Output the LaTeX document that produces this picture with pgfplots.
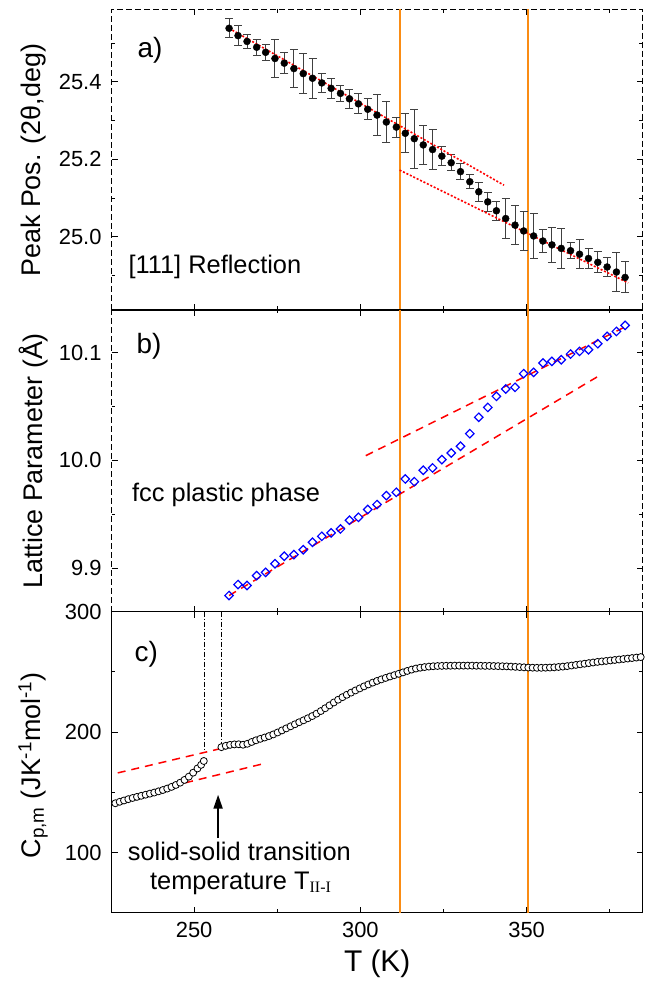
\documentclass[border=0pt]{standalone}
\usepackage{pgfplots}
\pgfplotsset{compat=1.18}
\usepackage{fontspec}
\setmainfont{Liberation Sans}
\newfontfamily\serif{Liberation Serif}
\usetikzlibrary{arrows.meta}
\definecolor{orng}{RGB}{250,140,20}

\pgfplotstableread{
x y e
260.5 25.538 0.024
263.2 25.519 0.026
265.9 25.504 0.017
268.8 25.489 0.020
271.5 25.476 0.020
274.3 25.460 0.050
277.1 25.448 0.027
280.0 25.434 0.050
282.8 25.421 0.051
285.6 25.409 0.051
288.4 25.397 0.025
291.2 25.383 0.026
294.0 25.370 0.021
296.7 25.356 0.024
299.4 25.343 0.026
302.2 25.329 0.027
305.0 25.314 0.052
307.8 25.296 0.052
310.8 25.283 0.026
313.5 25.267 0.050
316.2 25.253 0.076
318.9 25.237 0.050
321.7 25.225 0.051
324.5 25.208 0.025
327.3 25.191 0.020
330.1 25.168 0.021
332.9 25.142 0.018
335.6 25.116 0.025
338.3 25.090 0.025
340.9 25.067 0.025
343.7 25.047 0.051
346.5 25.030 0.051
349.1 25.015 0.051
352.1 25.002 0.058
354.9 24.989 0.030
357.6 24.979 0.045
360.4 24.970 0.051
363.2 24.964 0.020
365.9 24.955 0.037
368.6 24.944 0.025
371.4 24.934 0.027
374.2 24.922 0.025
377.0 24.909 0.051
379.6 24.895 0.040
}\peakdata

\pgfplotstableread{
x y
260.5 9.8745
263.2 9.8847
265.9 9.8838
268.8 9.8930
271.5 9.8960
274.3 9.9040
277.1 9.9110
280.0 9.9125
282.8 9.9170
285.6 9.9240
288.4 9.9295
291.2 9.9326
294.0 9.9363
296.7 9.9444
299.4 9.9471
302.2 9.9543
305.0 9.9589
307.8 9.9672
310.8 9.9703
313.5 9.9827
316.2 9.9802
318.9 9.9907
321.7 9.9929
324.5 10.0006
327.3 10.0068
330.1 10.0130
332.9 10.0247
335.6 10.0399
338.3 10.0491
340.9 10.0594
343.7 10.0662
346.5 10.0677
349.1 10.0804
352.1 10.0816
354.9 10.0903
357.6 10.0918
360.4 10.0934
363.2 10.0986
365.9 10.1011
368.6 10.1026
371.4 10.1082
374.2 10.1150
377.0 10.1196
379.6 10.1252
}\latdata

\pgfplotstableread{
x y
225.0 139.5
226.3 140.9
227.6 142.1
228.9 143.2
230.2 144.3
231.5 145.3
232.8 146.2
234.1 147.1
235.4 148.0
236.7 148.9
238.0 149.8
239.3 150.8
240.6 151.9
241.9 153.1
243.2 154.5
244.5 156.1
245.8 158.0
247.1 160.3
248.4 163.0
249.7 166.3
251.0 169.8
252.1 172.8
252.9 176.0
}\cplow

\pgfplotstableread{
x y
258.2 187.5
259.5 188.6
260.8 189.4
262.1 189.8
263.4 189.9
264.7 189.5
266.0 190.3
267.3 191.8
268.6 193.2
269.9 194.4
271.2 195.5
272.5 196.7
273.8 198.1
275.1 199.7
276.4 201.4
277.7 203.1
279.0 204.8
280.3 206.5
281.6 208.2
282.9 209.8
284.2 211.5
285.5 213.3
286.8 215.3
288.1 217.5
289.4 219.8
290.7 222.2
292.0 224.6
293.3 226.9
294.6 229.0
295.9 231.0
297.2 232.8
298.5 234.6
299.8 236.3
301.1 238.0
302.4 239.6
303.7 241.1
305.0 242.5
306.3 243.8
307.6 245.0
308.9 246.2
310.2 247.3
311.5 248.4
312.8 249.6
314.1 250.8
315.4 251.9
316.7 252.8
318.0 253.5
319.3 254.0
320.6 254.4
321.9 254.7
323.2 254.9
324.5 255.0
325.8 255.1
327.1 255.1
328.4 255.2
329.7 255.2
331.0 255.2
332.3 255.2
333.6 255.2
334.9 255.1
336.2 255.1
337.5 255.0
338.8 255.0
340.1 254.9
341.4 254.8
342.7 254.7
344.0 254.6
345.3 254.4
346.6 254.2
347.9 254.0
349.2 253.8
350.5 253.6
351.8 253.5
353.1 253.4
354.4 253.4
355.7 253.5
357.0 253.6
358.3 253.8
359.6 254.1
360.9 254.4
362.2 254.8
363.5 255.3
364.8 255.8
366.1 256.3
367.4 256.8
368.7 257.3
370.0 257.8
371.3 258.3
372.6 258.7
373.9 259.1
375.2 259.5
376.5 259.9
377.8 260.3
379.1 260.7
380.4 261.1
381.7 261.5
383.0 261.9
384.3 262.3
}\cphigh

\tikzset{
  lab/.style={font=\fontsize{28}{28}\selectfont},
  txt/.style={font=\fontsize{25.5}{30}\selectfont, inner sep=0pt},
}
\pgfplotsset{
  common/.style={
    scale only axis, width=531bp,
    xmin=225.2, xmax=384.9,
    xtick={250,300,350}, minor xtick={275,325,375},
    xtick pos=both, ytick pos=both, tick align=inside,
    major tick length=6bp, minor tick length=3.5bp,
    every tick/.style={black, line width=1bp},
    /pgf/number format/assume math mode=true,
    tick label style={font=\fontsize{22}{22}\selectfont},
    yticklabel style={anchor=east, inner sep=0pt, xshift=-10bp},
    xticklabel style={anchor=center, inner sep=0pt, yshift=-17bp},
    ylabel style={font=\fontsize{27}{27}\selectfont, inner sep=0pt},
    clip=true,
  },
  vline/.style={orng, line width=2bp},
}

\begin{document}
\begin{tikzpicture}
% ---------------- panel a
\begin{axis}[common, at={(0,602.7bp)}, height=300.7bp,
  ymin=24.811, ymax=25.587,
  ytick={25.0,25.2,25.4}, minor ytick={24.9,25.1,25.3,25.5},
  yticklabel style={/pgf/number format/.cd, fixed, fixed zerofill, precision=1},
  xticklabels={},
  axis line style={line width=1.1bp, dash pattern=on 6bp off 3bp},
  ylabel={Peak Pos. (2θ,deg)},
  ylabel style={at={(axis description cs:-0.148,0.11)}, anchor=west},
]
\addplot[vline] coordinates {(312,24.811) (312,25.587)};
\addplot[vline] coordinates {(350.5,24.811) (350.5,25.587)};
\addplot[only marks, mark=*, mark size=3.5bp, black,
  error bars/.cd, y dir=both, y explicit, error mark=-,
  error bar style={black!75, line width=1bp},
  error mark options={rotate=90, black!75, mark size=4bp, line width=1bp}]
  table[x=x, y=y, y error=e] {\peakdata};
\addplot[red, line width=1.6bp, dash pattern=on 2bp off 1.8bp] coordinates {(260.5,25.538) (343.2,25.133)};
\addplot[red, line width=1.6bp, dash pattern=on 2bp off 1.8bp] coordinates {(311.8,25.172) (380.5,24.881)};
\node[lab] at (axis cs:236.7,25.482) {a)};
\node[txt, anchor=west] at (axis cs:230.2,24.923) {[111] Reflection};
\end{axis}
% ---------------- panel b
\begin{axis}[common, at={(0,301bp)}, height=301.7bp,
  ymin=9.8595, ymax=10.1395,
  ytick={9.9,10.0,10.1}, minor ytick={9.95,10.05},
  yticklabel style={/pgf/number format/.cd, fixed, fixed zerofill, precision=1},
  xticklabels={},
  axis line style={line width=1.1bp, dash pattern=on 6bp off 3bp},
  ylabel={Lattice Parameter (Å)},
  ylabel style={at={(axis description cs:-0.148,0.5)}, anchor=center},
]
\addplot[vline] coordinates {(312,9.8595) (312,10.1395)};
\addplot[vline] coordinates {(350.5,9.8595) (350.5,10.1395)};
\addplot[red, line width=1.5bp, dash pattern=on 8bp off 6bp] coordinates {(260.5,9.8745) (371.8,10.0785)};
\addplot[red, line width=1.5bp, dash pattern=on 8bp off 6bp] coordinates {(301.6,10.0043) (379.9,10.1243)};
\addplot[only marks, mark=square, mark size=3bp, blue,
  mark options={rotate=45, line width=1.2bp}] table[x=x, y=y] {\latdata};
\node[lab] at (axis cs:236.4,10.1057) {b)};
\node[txt, anchor=west] at (axis cs:231.3,9.968) {fcc plastic phase};
\end{axis}
% ---------------- panel c
\begin{axis}[common, at={(0,0)}, height=301bp,
  ymin=50, ymax=300,
  ytick={100,200,300}, minor ytick={150,250},
  axis line style={line width=1.2bp},
  xlabel={T (K)},
  xlabel style={font=\fontsize{30}{30}\selectfont, at={(axis description cs:0.5,0)}, anchor=center, yshift=-51bp},
  ylabel={C\textsubscript{p,m} (JK\textsuperscript{-1}mol\textsuperscript{-1})},
  ylabel style={at={(axis description cs:-0.148,0.49)}, anchor=center},
]
\addplot[vline] coordinates {(312,50) (312,300)};
\addplot[vline] coordinates {(350.5,50) (350.5,300)};
\addplot[black, line width=0.9bp, dash pattern=on 5bp off 2bp on 1bp off 2bp] coordinates {(253.1,300) (253.1,183.5)};
\addplot[black, line width=0.9bp, dash pattern=on 5bp off 2bp on 1bp off 2bp] coordinates {(258.1,300) (258.1,187.6)};
\addplot[red, line width=1.5bp, dash pattern=on 8bp off 6bp] coordinates {(227,166.1) (257.8,186.2)};
\addplot[red, line width=1.5bp, dash pattern=on 8bp off 6bp] coordinates {(243.2,155.1) (271.8,174.4)};
\addplot[only marks, mark=*, mark size=3.5bp, mark options={draw=black, fill=white, line width=0.8bp}] table[x=x, y=y] {\cplow};
\addplot[only marks, mark=*, mark size=3.5bp, mark options={draw=black, fill=white, line width=0.8bp}] table[x=x, y=y] {\cphigh};
\draw[black, line width=2bp, -{Triangle[width=9bp,length=14bp]}] (axis cs:257.2,112) -- (axis cs:257.2,148);
\node[lab] at (axis cs:235.6,264.7) {c)};
\node[txt] at (axis cs:263.6,100.8) {solid-solid transition};
\node[txt, anchor=west] at (axis cs:236.7,74.7) {temperature T\textsubscript{\serif\fontsize{16}{16}\selectfont II-I}};
\end{axis}
\pgfresetboundingbox
\path[use as bounding box] (-111.7bp,-68.3bp) rectangle (551.3bp,912.7bp);
\end{tikzpicture}
\end{document}
